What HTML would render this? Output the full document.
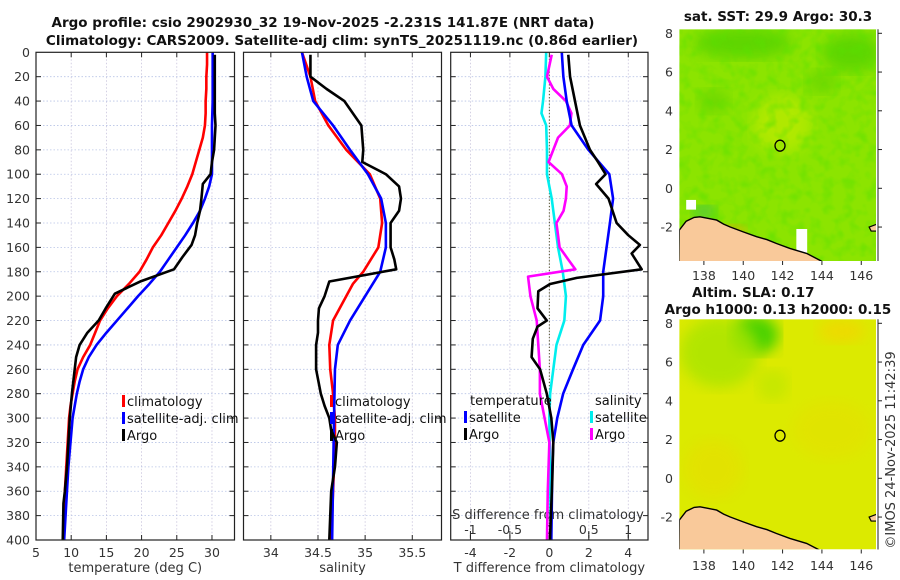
<!DOCTYPE html>
<html><head><meta charset="utf-8">
<style>
html,body{margin:0;padding:0;background:#fff;}
svg{display:block;font-family:"DejaVu Sans","Liberation Sans",sans-serif;}
.tk{font-size:12.5px;fill:#333;}
.ttl{font-size:13.5px;font-weight:bold;fill:#111;}
.lg{font-size:13px;fill:#111;}
</style></head>
<body>
<svg id="chart" width="900" height="580" viewBox="0 0 900 580" xmlns="http://www.w3.org/2000/svg">
<defs>
  <filter id="noise1" x="0" y="0" width="100%" height="100%">
    <feTurbulence type="fractalNoise" baseFrequency="0.09" numOctaves="2" seed="3"/>
    <feColorMatrix type="matrix" values="0 0 0 0 0.1  0 0 0 0 0.75  0 0 0 0 0  0 0 0 -2.2 1.25"/>
  </filter>
  <filter id="blur6"><feGaussianBlur stdDeviation="7"/></filter>
  <clipPath id="clipMap1"><rect x="679.3" y="29.3" width="197.7" height="231.7"/></clipPath>
  <clipPath id="clipMap2"><rect x="679.3" y="319.3" width="197.7" height="230"/></clipPath>
</defs>
<text class="ttl" x="323" y="27" text-anchor="middle">Argo profile: csio 2902930_32 19-Nov-2025 -2.231S 141.87E (NRT data)</text>
<text class="ttl" x="342" y="45" text-anchor="middle">Climatology: CARS2009. Satellite-adj clim: synTS_20251119.nc (0.86d earlier)</text>
<g id="plots"></g>
<g id="maps"></g>
<text class="tk" transform="translate(895,450) rotate(-90)" text-anchor="middle" style="font-size:13px">©IMOS 24-Nov-2025 11:42:39</text>
</svg>
<script>
// ---- data (depth in m) ----
const tClimDepth = [0,10,20,30,40,50,60,70,80,90,100,110,120,130,140,150,160,170,180,190,200,210,220,230,240,250,260,270,280,290,300,320,340,360,380,400];
const tClim = [29.3,29.3,29.2,29.2,29.1,29.1,29.0,28.7,28.2,27.7,27.2,26.5,25.7,24.8,23.8,22.8,21.6,20.7,19.7,18.2,16.5,15.2,14.1,13.4,12.7,11.7,10.9,10.5,10.2,9.9,9.7,9.5,9.3,9.1,9.0,8.9];
const tSatDepth = [0,20,40,60,80,100,110,120,130,140,150,160,170,180,190,200,210,220,230,240,250,260,270,280,290,300,320,340,360,380,400];
const tSat = [30.1,30.1,30.1,30.0,30.0,30.0,29.6,29.0,28.3,27.3,26.2,25.0,23.8,22.6,21.1,19.5,18.0,16.5,15.0,13.6,12.5,11.7,11.2,10.8,10.5,10.2,9.9,9.6,9.4,9.2,9.0];
const argoDepth = [2,10,20,30,40,50,60,70,80,90,100,108,120,130,140,150,158,168,178,188,198,210,220,230,240,250,260,280,300,320,340,360,370,400];
const tArgo = [30.4,30.4,30.4,30.4,30.4,30.4,30.5,30.4,30.3,30.0,29.8,28.7,28.5,28.3,27.9,27.6,27.1,25.8,24.6,19.8,16.2,14.9,13.9,12.3,11.2,10.7,10.5,10.1,9.8,9.6,9.4,9.1,8.9,8.8];

const sClimDepth = [0,20,40,60,80,100,120,140,160,180,190,200,220,240,260,280,300,320,360,400];
const sClim = [34.33,34.42,34.47,34.61,34.80,35.05,35.16,35.18,35.14,34.98,34.87,34.80,34.66,34.62,34.63,34.66,34.68,34.68,34.66,34.64];
const sSatDepth = [0,20,40,60,80,100,120,140,160,180,200,220,240,260,300,400];
const sSat = [34.33,34.38,34.45,34.66,34.84,35.03,35.17,35.22,35.22,35.16,35.00,34.84,34.71,34.68,34.67,34.65];
const sArgoDepth = [2,20,30,40,60,80,90,100,110,120,130,140,160,170,178,188,200,210,220,230,240,260,280,290,300,310,320,340,360,400];
const sArgo = [34.42,34.42,34.59,34.78,34.96,34.98,34.97,35.22,35.36,35.38,35.36,35.27,35.27,35.31,35.33,34.62,34.57,34.51,34.50,34.50,34.48,34.48,34.53,34.57,34.62,34.64,34.70,34.68,34.64,34.62];

const dTSatDepth = [0,20,40,60,80,100,120,140,160,180,200,220,240,260,270,280,300,320,340,400];
const dTSat = [0.63,0.71,0.88,1.13,1.98,3.04,3.23,3.07,2.9,2.73,2.73,2.57,1.72,1.2,0.95,0.7,0.4,0.2,0.15,0.1];
const dTArgoDepth = [2,20,40,60,80,90,100,108,120,140,150,158,165,178,185,190,196,210,220,225,235,250,260,280,300,320,350,400];
const dTArgo = [0.96,1.05,1.3,1.55,2.06,2.47,2.85,2.37,3.0,3.41,4.0,4.59,4.17,4.68,1.39,0.04,-0.56,-0.6,-0.13,-0.6,-0.84,-0.9,-0.47,-0.13,0.1,0.2,0.15,0.03];
const dSSatDepth = [0,20,40,50,60,80,100,120,140,160,180,200,220,240,260,280,300,350,400];
const dSSat = [-0.04,-0.05,-0.08,-0.1,-0.04,-0.03,-0.03,0.03,0.07,0.11,0.17,0.21,0.19,0.09,0.05,0.01,0.0,0.01,0.02];
const dSArgoDepth = [2,20,30,40,50,60,70,90,100,110,120,130,140,160,170,178,184,200,220,240,260,280,300,310,320,360,400];
const dSArgo = [0.03,-0.03,0.05,0.21,0.28,0.26,0.11,-0.01,0.16,0.22,0.21,0.18,0.09,0.13,0.24,0.33,-0.27,-0.24,-0.16,-0.14,-0.12,-0.12,-0.06,-0.03,0.0,-0.02,-0.03];

const depthTicks = [0,20,40,60,80,100,120,140,160,180,200,220,240,260,280,300,320,340,360,380,400];
const tTicks = [5,10,15,20,25,30];
const sTicks = [34,34.5,35,35.5];
const dTTicks = [-4,-2,0,2,4];
const dSTicks = [-1,-0.5,0,0.5,1];

const NS = 'http://www.w3.org/2000/svg';
function mk(tag, attrs, parent){ const e=document.createElementNS(NS,tag); for(const k in attrs) e.setAttribute(k,attrs[k]); parent.appendChild(e); return e; }
const Y0=52.3, Y1=540;
const yOf = d => Y0 + d*(Y1-Y0)/400;
function lin(d0,d1,r0,r1){ return v => r0 + (v-d0)*(r1-r0)/(d1-d0); }

const panels = [
  {name:'temperature', x0:36, x1:234.5, sc:lin(5,33.2,36,234.5), ticks:tTicks, label:'temperature (deg C)'},
  {name:'salinity', x0:243.5, x1:441.5, sc:lin(33.71,35.81,243.5,441.5), ticks:sTicks, label:'salinity'},
  {name:'difference', x0:450.7, x1:648, sc:lin(-5,5,450.7,648), ticks:dTTicks, label:'T difference from climatology'}
];
const scS3 = lin(-1.25,1.25,450.7,648);
const plots = document.getElementById('plots');

panels.forEach((p,i)=>{
  const g = mk('g',{},plots);
  
  
  p.ticks.forEach(t=>{
    const x=p.sc(t); if(x<=p.x0+1||x>=p.x1-1) return;
    const l=mk('line',{x1:x,x2:x,y1:Y0,y2:Y1,stroke:'#c9c4dc','stroke-width':0.8,'stroke-dasharray':'1.5,2'},g);
    
    
  });
  depthTicks.forEach(d=>{
    const y=yOf(d); if(d===0||d===400) return;
    const l=mk('line',{x1:p.x0,x2:p.x1,y1:y,y2:y,stroke:'#b8c4e6','stroke-width':0.8,'stroke-dasharray':'1.5,2'},g);
    
    
    mk('line',{x1:p.x0,x2:p.x0+5,y1:y,y2:y,stroke:'#222','stroke-width':1},g);
    mk('line',{x1:p.x1-5,x2:p.x1,y1:y,y2:y,stroke:'#222','stroke-width':1},g);
  });
  p.ticks.forEach(t=>{
    const x=p.sc(t);
    mk('line',{x1:x,x2:x,y1:Y1,y2:Y1-5,stroke:'#222','stroke-width':1},g);
    mk('line',{x1:x,x2:x,y1:Y0,y2:Y0+5,stroke:'#222','stroke-width':1},g);
    const tx=mk('text',{x:x,y:557,'text-anchor':'middle',class:'tk'},g);
    tx.textContent = String(t);
    
    
  });
  const xl=mk('text',{x:(p.x0+p.x1)/2,y:572,'text-anchor':'middle',class:'tk',style:'font-size:13px'},g);
  xl.textContent=p.label;
  
  
  if(i===0){
    depthTicks.forEach(d=>{
      const t=mk('text',{x:30,y:yOf(d)+4.5,'text-anchor':'end',class:'tk'},g);
      t.textContent=String(d);
      
      
    });
  }
  p.g=g;
});

function line(g, depths, vals, sc, color, name, w){
  let d='';
  vals.forEach((v,k)=>{ d += (k?'L':'M') + sc(v).toFixed(2)+','+yOf(depths[k]).toFixed(2); });
  const e=mk('path',{d:d,fill:'none',stroke:color,'stroke-width':w||2.6,'stroke-linejoin':'round'},g);
  
  
}
{
  const p=panels[2], g=p.g;
  const z=mk('line',{x1:p.sc(0),x2:p.sc(0),y1:Y0,y2:Y1,stroke:'#4a4a20','stroke-width':1,'stroke-dasharray':'1.2,2'},g);
  
  
  dSTicks.forEach(t=>{
    const x=scS3(t);
    mk('line',{x1:x,x2:x,y1:531,y2:538,stroke:'#222','stroke-width':1},g);
    const tx=mk('text',{x:x,y:534,'text-anchor':'middle',class:'tk'},g);
    tx.textContent=String(t);
    
    
  });
  const st=mk('text',{x:548,y:519,'text-anchor':'middle',class:'tk',style:'font-size:13px'},g);
  st.textContent='S difference from climatology';
  
  
}
line(panels[0].g, tClimDepth, tClim, panels[0].sc, '#ff0000', 'temperature-climatology-line');
line(panels[0].g, tSatDepth, tSat, panels[0].sc, '#0000ff', 'temperature-satellite-adj-line');
line(panels[0].g, argoDepth, tArgo, panels[0].sc, '#000000', 'temperature-argo-line');
line(panels[1].g, sClimDepth, sClim, panels[1].sc, '#ff0000', 'salinity-climatology-line');
line(panels[1].g, sSatDepth, sSat, panels[1].sc, '#0000ff', 'salinity-satellite-adj-line');
line(panels[1].g, sArgoDepth, sArgo, panels[1].sc, '#000000', 'salinity-argo-line');
line(panels[2].g, dSSatDepth, dSSat, scS3, '#00eeee', 's-difference-satellite-line');
line(panels[2].g, dSArgoDepth, dSArgo, scS3, '#ff00ff', 's-difference-argo-line');
line(panels[2].g, dTSatDepth, dTSat, panels[2].sc, '#0000ff', 't-difference-satellite-line');
line(panels[2].g, dTArgoDepth, dTArgo, panels[2].sc, '#000000', 't-difference-argo-line');

panels.forEach(p=>{
  const r=mk('rect',{x:p.x0,y:Y0,width:p.x1-p.x0,height:Y1-Y0,fill:'none',stroke:'#222','stroke-width':1.2},p.g);
  
  
});

function legend(g, x, y, color, label, name){
  const m=mk('rect',{x:x,y:y-11,width:3,height:12,fill:color},g);
  
  
  const t=mk('text',{x:x+5,y:y,class:'lg'},g);
  t.textContent=label;
  
  
}
[[panels[0],122],[panels[1],330]].forEach(([p,x],k)=>{
  const g=mk('g',{},plots);
  
  
  legend(g,x,406,'#ff0000','climatology','legend-climatology');
  legend(g,x,423,'#0000ff','satellite-adj. clim','legend-satellite-adj');
  legend(g,x,440,'#000000','Argo','legend-argo');
});
{
  const g=mk('g',{},plots);
  
  
  const h1=mk('text',{x:470,y:405,class:'lg'},g); h1.textContent='temperature';
  
  
  const h2=mk('text',{x:595,y:405,class:'lg'},g); h2.textContent='salinity';
  
  
  legend(g,464,422,'#0000ff','satellite','legend-t-satellite');
  legend(g,464,439,'#000000','Argo','legend-t-argo');
  legend(g,590,422,'#00eeee','satellite','legend-s-satellite');
  legend(g,590,439,'#ff00ff','Argo','legend-s-argo');
}

const lonTicks=[138,140,142,144,146];
const latTicks=[-2,0,2,4,6,8];
const coastLon=[136.75,137.1,137.5,137.8,138.2,138.65,139.0,139.32,140.0,140.68,141.2,141.69,142.37,143.22,143.89,144.2];
const coastLat=[-2.16,-1.7,-1.5,-1.47,-1.55,-1.64,-1.85,-1.99,-2.25,-2.5,-2.65,-2.85,-3.1,-3.36,-3.71,-3.9];
const argoLon=141.87, argoLat=2.2;
const maps=document.getElementById('maps');
function drawMap(cfg){
  const g=mk('g',{},maps);
  
  
  const X=lin(136.75,146.8,679.3,877), Yl=lin(8,0,cfg.y8,cfg.y0);
  const inner=mk('g',{'clip-path':'url(#'+cfg.clip+')'},g);
  mk('rect',{x:679.3,y:cfg.top,width:197.7,height:cfg.bot-cfg.top,fill:cfg.base},inner);
  cfg.blobs.forEach(b=>{
    const e=mk('ellipse',{cx:X(b[0]),cy:Yl(b[1]),rx:b[2]*19.7,ry:b[3]*19.4,fill:b[4],opacity:b[5],filter:'url(#blur6)'},inner);
    
    
  });
  if(cfg.noise) mk('rect',{x:679.3,y:cfg.top,width:197.7,height:cfg.bot-cfg.top,filter:'url(#noise1)',opacity:0.55},inner);
  if(cfg.white){ cfg.white.forEach(w=>mk('rect',{x:X(w[0]),y:Yl(w[1]),width:w[2]*19.7,height:w[3]*19.4,fill:'#fff'},inner)); }
  let d='';
  coastLon.forEach((lo,k)=>{ d+=(k?'L':'M')+X(lo).toFixed(1)+','+Yl(coastLat[k]).toFixed(1); });
  const land=mk('path',{d:d+'L'+X(144.2)+','+(cfg.bot+5)+'L679,'+(cfg.bot+5)+'Z',fill:'#f9c99a',stroke:'#000','stroke-width':1.4},inner);
  
  
  mk('path',{d:'M'+X(146.4)+','+Yl(-2.0)+'l8,-3l10,2l-6,5l-10,0z',fill:'#f9c99a',stroke:'#000','stroke-width':1.2},inner);
  mk('rect',{x:876,y:cfg.top,width:4,height:cfg.bot-cfg.top,fill:'#fff'},g);
  mk('line',{x1:878,x2:878,y1:cfg.top,y2:cfg.bot,stroke:'#222','stroke-width':1},g);
  const c=mk('ellipse',{cx:X(argoLon),cy:Yl(argoLat),rx:5,ry:5.5,fill:'none',stroke:'#000','stroke-width':1.3},g);
  
  
  lonTicks.forEach(t=>{
    const tx=mk('text',{x:X(t),y:cfg.lonY,'text-anchor':'middle',class:'tk'},g);
    tx.textContent=String(t);
    
    
    mk('line',{x1:X(t),x2:X(t),y1:cfg.bot,y2:cfg.bot+4,stroke:'#222'},g);
  });
  latTicks.forEach(t=>{
    const tx=mk('text',{x:673,y:Yl(t)+4.5,'text-anchor':'end',class:'tk'},g);
    tx.textContent=String(t);
    
    
    mk('line',{x1:878,x2:882,y1:Yl(t),y2:Yl(t),stroke:'#222'},g);
  });
  cfg.titles.forEach(tt=>{
    const tx=mk('text',{x:tt[0],y:tt[1],'text-anchor':tt[3]||'middle',class:'ttl'},g);
    tx.textContent=tt[2];
    
    
  });
}
drawMap({name:'sst-map',clip:'clipMap1',top:29.3,bot:261,y8:33.3,y0:188.3,lonY:280,base:'#8ce400',noise:true,
  blobs:[[142,3.3,1.5,1.5,'#c8ec00',0.6],[140,7.5,2.5,0.8,'#30c800',0.5],[145.5,7,1.5,1,'#30c800',0.5],[138.5,4.5,0.8,0.6,'#40c800',0.4],[144,5.5,0.8,0.6,'#40c800',0.4],[139.5,-2.3,0.6,0.4,'#f0a000',0.7],[138,-1.2,0.6,0.3,'#10b070',0.7]],
  white:[[137.1,-0.6,0.5,0.5],[142.7,-2.1,0.55,1.3]],
  titles:[[778,21,'sat. SST: 29.9 Argo: 30.3',null,'sst-map-title']]});
drawMap({name:'sla-map',clip:'clipMap2',top:319.3,bot:549.5,y8:323.3,y0:478.3,lonY:570,base:'#dcea00',noise:false,
  blobs:[[140.6,7.4,1.2,1.0,'#40d000',0.95],[138.8,6.5,2.0,1.8,'#a8e400',0.8],[141.5,4.8,0.8,0.8,'#b8e600',0.6],[145,7.6,1.2,0.6,'#f4d400',0.7],[138.5,0.5,1.5,1.5,'#ecd800',0.4],[144.5,2.5,2,1.5,'#e8dc00',0.4]],
  titles:[[692,297,'Altim. SLA: 0.17','start','sla-map-title'],[778,314,'Argo h1000: 0.13 h2000: 0.15',null,'sla-map-subtitle']]});
</script>
</body></html>
